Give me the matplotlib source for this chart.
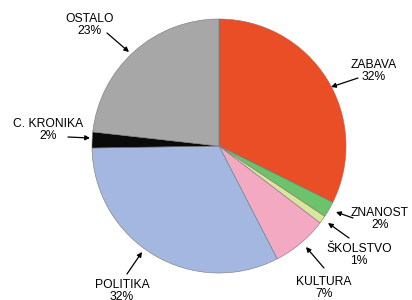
import matplotlib.pyplot as plt

plt.rcParams['font.family'] = ['Liberation Sans', 'DejaVu Sans']

# data
categories = ['ZABAVA', 'ZNANOST', 'ŠKOLSTVO', 'KULTURA', 'POLITIKA', 'C. KRONIKA', 'OSTALO']
shares = [32, 2, 1, 7, 32, 2, 23]
colors = ['#e94e26', '#6dc36b', '#d9e79a', '#f4a9c3', '#a3b7e0', '#0a0a0a', '#a7a7a7']

# label text position, arrow tail, arrow head (pixel coords, y from top)
label_pos = [(374, 71), (380, 219), (359, 255), (324, 288), (122, 291), (48, 130), (90, 25)]
arrow_tail = [(358, 78), (353, 218), (349, 238), (324, 268), (127, 274), (68, 137), (107, 33)]
arrow_head = [(331, 87), (336, 212), (328, 223), (306, 247), (142, 252), (90, 138), (129, 52)]

W, H = 412, 300
fig = plt.figure(figsize=(W / 100, H / 100), dpi=100)
ax = fig.add_axes([0, 0, 1, 1])

ax.pie(shares, colors=colors, startangle=90, counterclock=False,
       center=(219, H - 146), radius=127, frame=True,
       wedgeprops=dict(linewidth=0.4, edgecolor='#777777'))
ax.set_xlim(0, W)
ax.set_ylim(0, H)
ax.set_aspect('equal')
ax.axis('off')

for name, pct, (lx, ly), (tx, ty), (hx, hy) in zip(categories, shares, label_pos,
                                                    arrow_tail, arrow_head):
    ax.text(lx, H - ly, '{}\n{}%'.format(name, pct), ha='center', va='center',
            fontsize=8.7, linespacing=0.95, color='black')
    ax.annotate('', xy=(hx, H - hy), xytext=(tx, H - ty),
                arrowprops=dict(arrowstyle='-|>', color='black', lw=0.9,
                                mutation_scale=7, shrinkA=0, shrinkB=0))

plt.savefig('out.png', dpi=100)
